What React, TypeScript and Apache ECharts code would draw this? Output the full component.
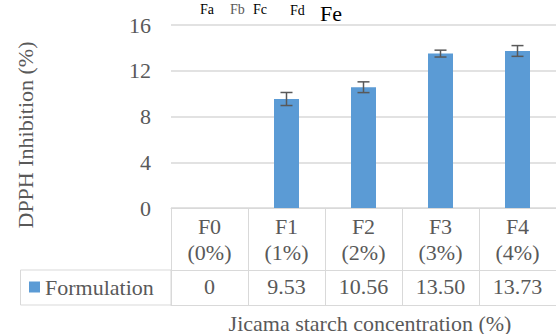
import React, { useEffect, useRef } from "react";
import * as echarts from "echarts";

const categories = ["F0\n(0%)", "F1\n(1%)", "F2\n(2%)", "F3\n(3%)", "F4\n(4%)"];
const values = [0, 9.53, 10.56, 13.5, 13.73];
const errors = [0, 0.57, 0.47, 0.3, 0.47];
const valueLabels = ["0", "9.53", "10.56", "13.50", "13.73"];
const seriesName = "Formulation";
const yTitle = "DPPH Inhibition (%)";
const xTitle = "Jicama starch concentration (%)";
const yMin = 0;
const yMax = 16;
const yInterval = 4;

const FONT = "serif";
const TEXT = "#595959";
const LINE = "#d9d9d9";
const FS = 22;

const GRID_LEFT = 171;
const GRID_TOP = 25;
const AXIS_Y = 208;
const ROW1 = 62;
const ROW2 = 35;
const TABLE_LEFT = 20;

const txt = { fontSize: FS, fontFamily: FONT, color: TEXT };

export default function App() {
  const ref = useRef<HTMLDivElement>(null);
  useEffect(() => {
    if (!ref.current) return;
    const chart = echarts.init(ref.current, undefined, { renderer: "svg" });
    const errData = values
      .map((v, i) => (errors[i] ? [i, v - errors[i], v + errors[i]] : null))
      .filter((d) => d !== null) as number[][];
    chart.setOption({
      animation: false,
      textStyle: { fontFamily: FONT },
      grid: { left: GRID_LEFT, right: -13, top: GRID_TOP, bottom: 334 - AXIS_Y },
      legend: {
        data: [seriesName],
        left: 29,
        top: 276,
        icon: "rect",
        itemWidth: 11,
        itemHeight: 11,
        itemGap: 5,
        textStyle: { ...txt },
        padding: 0,
      },
      xAxis: [
        {
          type: "category",
          data: categories,
          position: "bottom",
          axisLine: { show: true, lineStyle: { color: LINE, width: 1 } },
          axisTick: { show: true, length: ROW1, interval: 0, lineStyle: { color: LINE } },
          axisLabel: { interval: 0, lineHeight: 26.5, margin: 5, ...txt },
        },
        {
          type: "category",
          data: valueLabels,
          position: "bottom",
          offset: ROW1,
          axisLine: { show: true, lineStyle: { color: LINE, width: 1 } },
          axisTick: { show: true, length: ROW2, interval: 0, lineStyle: { color: LINE } },
          axisLabel: { interval: 0, margin: 5, ...txt },
        },
        {
          type: "category",
          data: valueLabels,
          position: "bottom",
          offset: ROW1 + ROW2,
          axisLine: { show: true, lineStyle: { color: LINE, width: 1 } },
          axisTick: { show: false },
          axisLabel: { show: false },
        },
      ],
      yAxis: {
        type: "value",
        min: yMin,
        max: yMax,
        interval: yInterval,
        axisLine: { show: false },
        axisTick: { show: false },
        axisLabel: { margin: 20, ...txt },
        splitLine: { lineStyle: { color: LINE, width: 1.5 } },
      },
      graphic: [
        {
          type: "rect",
          shape: { x: TABLE_LEFT + 0.5, y: AXIS_Y + ROW1, width: GRID_LEFT - TABLE_LEFT - 0.5, height: ROW2 },
          style: { fill: "none", stroke: LINE, lineWidth: 1 },
        },
        {
          type: "text",
          x: 25,
          y: 135,
          rotation: Math.PI / 2,
          style: { text: yTitle, fontSize: FS, fontFamily: FONT, fill: TEXT, align: "center", verticalAlign: "middle" },
        },
        {
          type: "text",
          x: 370,
          y: 323,
          style: { text: xTitle, fontSize: FS, fontFamily: FONT, fill: TEXT, align: "center", verticalAlign: "middle" },
        },
        { type: "text", x: 200, y: 2, style: { text: "Fa", fontSize: 14, fontFamily: "serif", fill: "#000" } },
        { type: "text", x: 230, y: 2, style: { text: "Fb", fontSize: 14, fontFamily: "serif", fill: TEXT } },
        { type: "text", x: 260, y: 2, style: { text: "Fc", fontSize: 14, fontFamily: "serif", fill: "#000", align: "center" } },
        { type: "text", x: 290, y: 10, style: { text: "Fd", fontSize: 14, fontFamily: "serif", fill: "#000", verticalAlign: "middle" } },
        { type: "text", x: 320, y: 2, style: { text: "Fe", fontSize: 22, fontFamily: "serif", fill: "#000" } },
      ],
      series: [
        {
          name: seriesName,
          type: "bar",
          data: values,
          barWidth: 25,
          itemStyle: { color: "#5B9BD5" },
          xAxisIndex: 0,
        },
        {
          name: "error",
          type: "custom",
          xAxisIndex: 0,
          data: errData,
          encode: { x: 0, y: [1, 2] },
          z: 10,
          renderItem: (params: any, api: any) => {
            const x = api.value(0);
            const top = api.coord([x, api.value(2)]);
            const bot = api.coord([x, api.value(1)]);
            const hw = 6;
            const style = { stroke: "#595959", lineWidth: 1.5 };
            return {
              type: "group",
              children: [
                { type: "line", shape: { x1: top[0], y1: top[1], x2: bot[0], y2: bot[1] }, style },
                { type: "line", shape: { x1: top[0] - hw, y1: top[1], x2: top[0] + hw, y2: top[1] }, style },
                { type: "line", shape: { x1: bot[0] - hw, y1: bot[1], x2: bot[0] + hw, y2: bot[1] }, style },
              ],
            };
          },
        },
      ],
    });
    return () => chart.dispose();
  }, []);
  return (
    <div
      ref={ref}
      style={{ position: "absolute", left: 0, top: 0, width: 556, height: 334, overflow: "hidden", background: "#fff" }}
    />
  );
}
